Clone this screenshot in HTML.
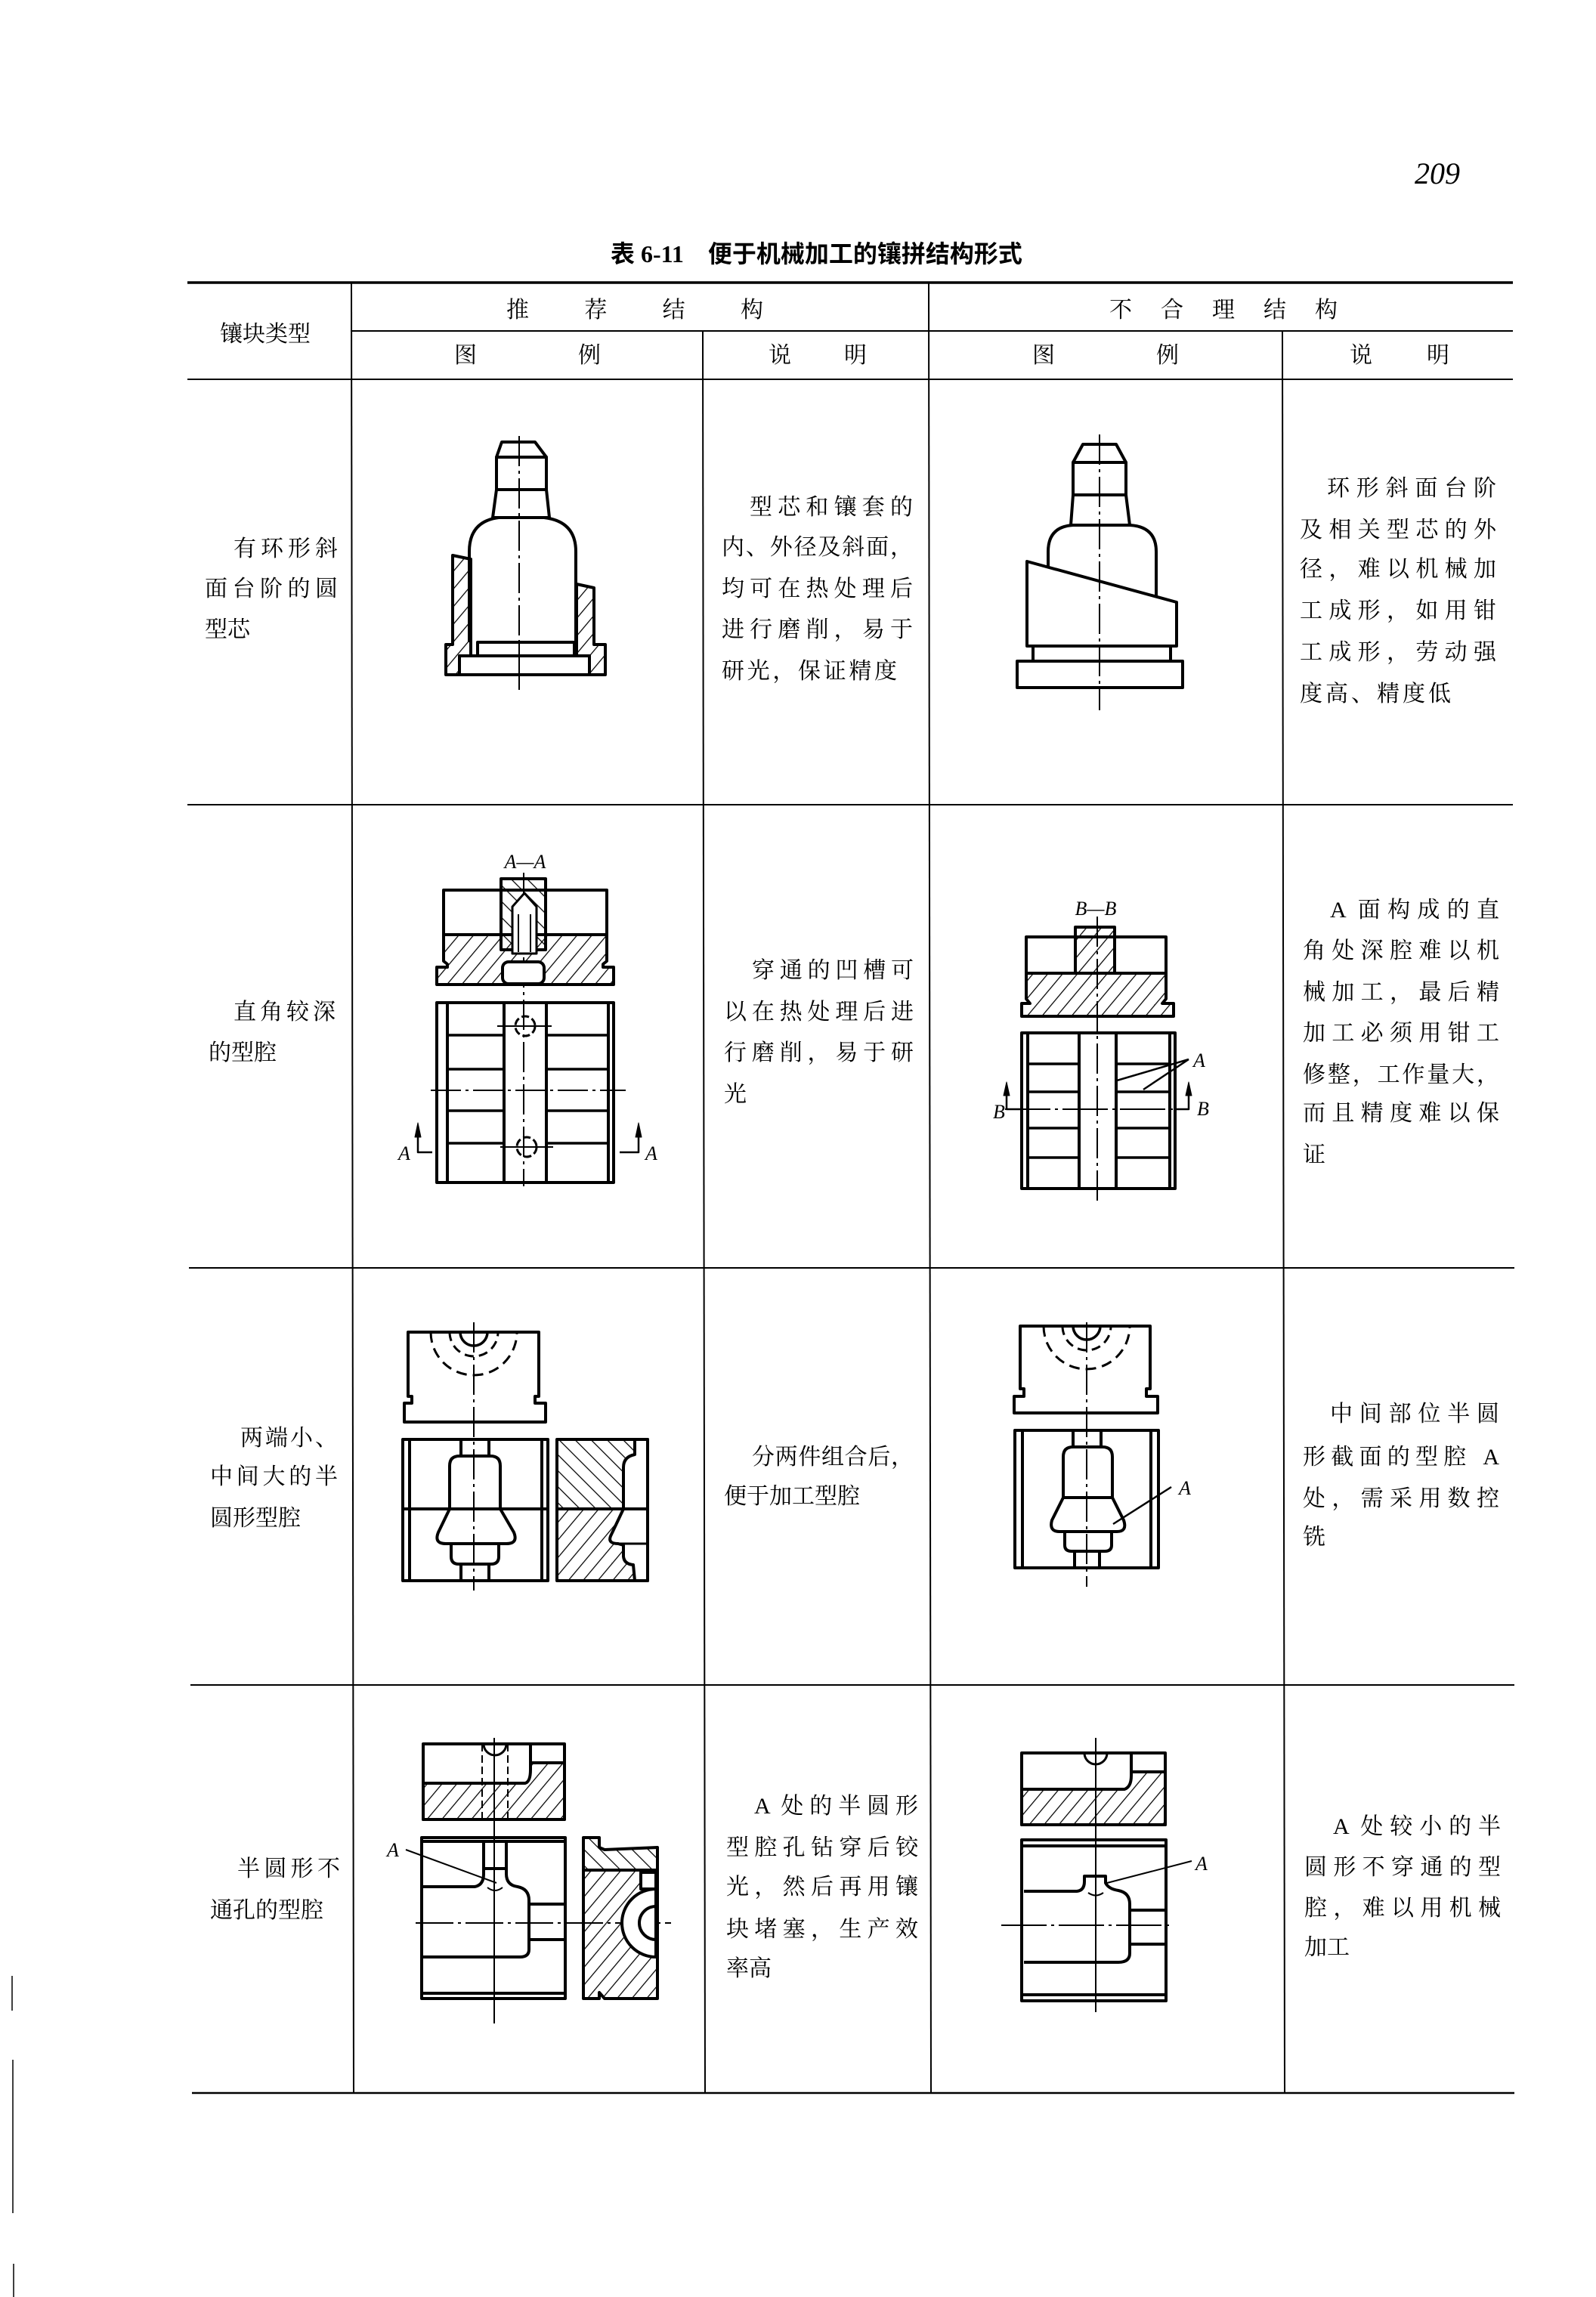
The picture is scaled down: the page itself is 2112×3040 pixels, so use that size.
<!DOCTYPE html>
<html><head><meta charset="utf-8">
<style>
html,body{margin:0;padding:0;background:#fff;}
body{width:2112px;height:3040px;position:relative;overflow:hidden;}
.t{position:absolute;font-family:"Liberation Serif","Noto Serif CJK SC",serif;font-size:30px;line-height:36px;white-space:nowrap;color:#000;}
.j{text-align:justify;text-align-last:justify;}
svg{position:absolute;left:0;top:0;}
</style></head><body>
<svg width="2112" height="3040" viewBox="0 0 2112 3040" xmlns="http://www.w3.org/2000/svg">
<defs>
<pattern id="h" width="15" height="15" patternUnits="userSpaceOnUse" patternTransform="rotate(40)"><line x1="0" y1="0" x2="0" y2="15" stroke="#000" stroke-width="2.5"/></pattern>
<pattern id="h2" width="15" height="15" patternUnits="userSpaceOnUse" patternTransform="rotate(-45)"><line x1="0" y1="0" x2="0" y2="15" stroke="#000" stroke-width="2.5"/></pattern>
</defs>
<g stroke="#000" fill="none">
<line x1="248" y1="374" x2="2002" y2="374" stroke-width="3.5"/>
<line x1="464" y1="438" x2="2002" y2="438" stroke-width="2"/>
<line x1="248" y1="502" x2="2002" y2="502" stroke-width="2"/>
<line x1="248" y1="1065" x2="2002" y2="1065" stroke-width="2"/>
<line x1="250" y1="1678" x2="2004" y2="1678" stroke-width="2"/>
<line x1="252" y1="2230" x2="2004" y2="2230" stroke-width="2"/>
<line x1="254" y1="2770" x2="2004" y2="2770" stroke-width="2.5"/>
<line x1="465" y1="374" x2="468" y2="2770" stroke-width="2"/>
<line x1="930" y1="438" x2="933" y2="2770" stroke-width="2"/>
<line x1="1229" y1="374" x2="1232" y2="2770" stroke-width="2"/>
<line x1="1697" y1="438" x2="1700" y2="2770" stroke-width="2"/>
<line x1="16" y1="2615" x2="16" y2="2661" stroke-width="1.5"/>
<line x1="17" y1="2726" x2="17" y2="2929" stroke-width="1.5"/>
<line x1="18" y1="2996" x2="18" y2="3040" stroke-width="1.5"/>
</g>

<g stroke="#000" stroke-width="4" fill="none" stroke-linejoin="round">
<line x1="687" y1="577" x2="687" y2="913" stroke-width="2" stroke-dasharray="40 6 4 6"/>
<polygon points="664,585 708,585 723,605 657,605"/>
<rect x="657" y="605" width="66" height="43"/>
<polygon points="657,648 723,648 727,685 652,685"/>
<path d="M621,850 L621,730 Q621,690 660,685 L720,685 Q762,690 762,730 L762,850"/>
<polygon points="599,735 623,740 623,868 608,868 608,893 590,893 590,853 599,853" fill="url(#h)"/>
<polygon points="763,773 786,778 786,853 801,853 801,893 780,893 780,868 763,868" fill="url(#h)"/>
<rect x="632" y="850" width="128" height="18" fill="#fff"/>
<rect x="608" y="868" width="172" height="25" fill="#fff"/>
<line x1="687" y1="850" x2="687" y2="913" stroke-width="2"/>

<line x1="1455" y1="575" x2="1455" y2="940" stroke-width="2" stroke-dasharray="40 6 4 6"/>
<polygon points="1433,588 1477,588 1490,612 1420,612"/>
<rect x="1420" y="612" width="70" height="43"/>
<polygon points="1420,655 1490,655 1495,695 1417,695"/>
<path d="M1387,750 L1387,730 Q1387,697 1420,695 L1495,695 Q1530,697 1530,730 L1530,788"/>
<polygon points="1359,743 1557,797 1557,855 1359,855"/>
<line x1="1367" y1="855" x2="1367" y2="875"/>
<line x1="1549" y1="855" x2="1549" y2="875"/>
<rect x="1346" y="875" width="219" height="35"/>

<line x1="693" y1="1155" x2="693" y2="1570" stroke-width="2" stroke-dasharray="40 6 4 6"/>
<rect x="587" y="1178" width="216" height="59"/>
<polygon points="587,1237 803,1237 803,1272 798,1276 798,1280 812,1280 812,1303 578,1303 578,1280 592,1280 592,1276 587,1272" fill="url(#h)"/>
<rect x="663" y="1163" width="59" height="94" fill="url(#h2)"/>
<path d="M678,1262 L678,1200 L694,1182 L710,1200 L710,1262 Z" fill="#fff" stroke-width="3"/>
<line x1="686" y1="1210" x2="686" y2="1260" stroke-width="2"/>
<line x1="702" y1="1210" x2="702" y2="1260" stroke-width="2"/>
<rect x="665" y="1273" width="55" height="29" rx="8" fill="#fff"/>
<rect x="578" y="1327" width="234" height="238"/>
<line x1="592" y1="1327" x2="592" y2="1565"/>
<line x1="805" y1="1327" x2="805" y2="1565"/>
<line x1="667" y1="1327" x2="667" y2="1565"/>
<line x1="723" y1="1327" x2="723" y2="1565"/>
<g stroke-width="3.5">
<line x1="592" y1="1370" x2="667" y2="1370"/><line x1="723" y1="1370" x2="805" y2="1370"/>
<line x1="592" y1="1415" x2="667" y2="1415"/><line x1="723" y1="1415" x2="805" y2="1415"/>
<line x1="592" y1="1470" x2="667" y2="1470"/><line x1="723" y1="1470" x2="805" y2="1470"/>
<line x1="592" y1="1513" x2="667" y2="1513"/><line x1="723" y1="1513" x2="805" y2="1513"/>
</g>
<line x1="570" y1="1443" x2="828" y2="1443" stroke-width="2" stroke-dasharray="40 6 4 6"/>
<circle cx="695" cy="1358" r="13" stroke-width="3" stroke-dasharray="10 4"/>
<circle cx="697" cy="1518" r="13" stroke-width="3" stroke-dasharray="10 4"/>
<line x1="658" y1="1358" x2="730" y2="1358" stroke-width="2"/>
<line x1="662" y1="1518" x2="732" y2="1518" stroke-width="2"/>
<path d="M553,1490 L553,1525 L572,1525" stroke-width="2.5"/>
<polygon points="549,1505 553,1486 557,1505" fill="#000" stroke-width="1"/>
<path d="M845,1490 L845,1525 L820,1525" stroke-width="2.5"/>
<polygon points="841,1505 845,1486 849,1505" fill="#000" stroke-width="1"/>

<line x1="1452" y1="1213" x2="1452" y2="1593" stroke-width="2" stroke-dasharray="40 6 4 6"/>
<rect x="1358" y="1240" width="185" height="48"/>
<polygon points="1358,1288 1543,1288 1543,1322 1538,1328 1553,1328 1553,1345 1352,1345 1352,1328 1363,1328 1358,1322" fill="url(#h)"/>
<rect x="1423" y="1227" width="52" height="61" fill="url(#h)"/>
<rect x="1352" y="1367" width="203" height="206"/>
<line x1="1360" y1="1367" x2="1360" y2="1573"/>
<line x1="1548" y1="1367" x2="1548" y2="1573"/>
<line x1="1428" y1="1367" x2="1428" y2="1573"/>
<line x1="1477" y1="1367" x2="1477" y2="1573"/>
<g stroke-width="3.5">
<line x1="1360" y1="1408" x2="1428" y2="1408"/><line x1="1477" y1="1408" x2="1548" y2="1408"/>
<line x1="1360" y1="1445" x2="1428" y2="1445"/><line x1="1477" y1="1445" x2="1548" y2="1445"/>
<line x1="1360" y1="1493" x2="1428" y2="1493"/><line x1="1477" y1="1493" x2="1548" y2="1493"/>
<line x1="1360" y1="1532" x2="1428" y2="1532"/><line x1="1477" y1="1532" x2="1548" y2="1532"/>
</g>
<line x1="1330" y1="1468" x2="1560" y2="1468" stroke-width="2" stroke-dasharray="60 6 4 6"/>
<line x1="1478" y1="1430" x2="1573" y2="1402" stroke-width="2.5"/>
<line x1="1513" y1="1442" x2="1573" y2="1402" stroke-width="2.5"/>
<path d="M1332,1436 L1332,1468 L1352,1468" stroke-width="2.5"/>
<polygon points="1328,1450 1332,1432 1336,1450" fill="#000" stroke-width="1"/>
<path d="M1573,1436 L1573,1468 L1556,1468" stroke-width="2.5"/>
<polygon points="1569,1450 1573,1432 1577,1450" fill="#000" stroke-width="1"/>

<line x1="627" y1="1750" x2="627" y2="2105" stroke-width="2" stroke-dasharray="40 6 4 6"/>
<path d="M540,1763 L713,1763 L713,1848 L708,1848 L708,1857 L722,1857 L722,1882 L535,1882 L535,1857 L545,1857 L545,1848 L540,1848 Z"/>
<path d="M609,1763 A18,18 0 0 0 645,1763" stroke-width="3.5"/>
<path d="M595,1763 A32,32 0 0 0 659,1763" stroke-width="3" stroke-dasharray="12 7"/>
<path d="M570,1763 A57,57 0 0 0 684,1763" stroke-width="3" stroke-dasharray="14 8"/>
<rect x="533" y="1905" width="192" height="187"/>
<line x1="542" y1="1905" x2="542" y2="2092"/>
<line x1="717" y1="1905" x2="717" y2="2092"/>
<line x1="533" y1="1997" x2="725" y2="1997"/>
<line x1="610" y1="1905" x2="610" y2="1927"/><line x1="647" y1="1905" x2="647" y2="1927"/>
<path d="M595,1997 L595,1940 Q595,1927 608,1927 L649,1927 Q662,1927 662,1940 L662,1997 L680,2028 Q686,2043 670,2043 L590,2043 Q574,2043 580,2028 Z"/>
<path d="M597,2043 L597,2060 Q597,2070 607,2070 L650,2070 Q660,2070 660,2060 L660,2043"/>
<line x1="610" y1="2070" x2="610" y2="2092"/><line x1="647" y1="2070" x2="647" y2="2092"/>
<rect x="737" y="1905" width="120" height="92" fill="url(#h2)"/>
<rect x="737" y="1997" width="120" height="95" fill="url(#h)"/>
<path d="M857,1905 L840,1905 L840,1925 Q825,1928 825,1942 L825,1997 L808,2033 Q804,2043 818,2043 L825,2045 L825,2060 Q826,2070 838,2071 L840,2092 L857,2092 Z" fill="#fff"/>
<line x1="825" y1="1997" x2="857" y2="1997"/>
<line x1="818" y1="2043" x2="857" y2="2043" stroke-width="3"/>

<line x1="1438" y1="1750" x2="1438" y2="2100" stroke-width="2" stroke-dasharray="40 6 4 6"/>
<path d="M1350,1755 L1522,1755 L1522,1838 L1517,1838 L1517,1848 L1532,1848 L1532,1870 L1342,1870 L1342,1848 L1355,1848 L1355,1838 L1350,1838 Z"/>
<path d="M1420,1755 A18,18 0 0 0 1456,1755" stroke-width="3.5"/>
<path d="M1406,1755 A32,32 0 0 0 1470,1755" stroke-width="3" stroke-dasharray="12 7"/>
<path d="M1381,1755 A57,57 0 0 0 1495,1755" stroke-width="3" stroke-dasharray="14 8"/>
<rect x="1343" y="1893" width="190" height="182"/>
<line x1="1353" y1="1893" x2="1353" y2="2075"/>
<line x1="1523" y1="1893" x2="1523" y2="2075"/>
<line x1="1420" y1="1893" x2="1420" y2="1915"/><line x1="1457" y1="1893" x2="1457" y2="1915"/>
<path d="M1407,1982 L1407,1928 Q1407,1915 1420,1915 L1459,1915 Q1472,1915 1472,1928 L1472,1982 Z"/>
<path d="M1407,1982 L1392,2012 Q1388,2027 1402,2027 L1478,2027 Q1492,2027 1487,2012 L1472,1982"/>
<path d="M1409,2027 L1409,2045 Q1409,2053 1418,2053 L1462,2053 Q1471,2053 1471,2045 L1471,2027"/>
<line x1="1422" y1="2053" x2="1422" y2="2075"/><line x1="1455" y1="2053" x2="1455" y2="2075"/>
<line x1="1473" y1="2017" x2="1550" y2="1968" stroke-width="2.5"/>

<line x1="654" y1="2300" x2="654" y2="2678" stroke-width="2"/>
<rect x="560" y="2308" width="187" height="100"/>
<path d="M560,2360 L695,2360 Q702,2358 702,2342 L702,2333 L747,2333 L747,2408 L560,2408 Z" fill="url(#h)"/>
<line x1="702" y1="2308" x2="702" y2="2333"/>
<path d="M640,2308 A15,15 0 0 0 670,2308" stroke-width="3"/>
<line x1="638" y1="2308" x2="638" y2="2408" stroke-width="2" stroke-dasharray="10 5"/>
<line x1="672" y1="2308" x2="672" y2="2408" stroke-width="2" stroke-dasharray="10 5"/>
<rect x="558" y="2432" width="190" height="213"/>
<line x1="558" y1="2437" x2="748" y2="2437"/>
<line x1="558" y1="2638" x2="748" y2="2638"/>
<path d="M560,2497 L628,2497 Q640,2495 640,2480 L640,2437"/>
<line x1="640" y1="2473" x2="670" y2="2473"/>
<path d="M670,2437 L670,2480 Q670,2495 685,2497 Q700,2500 700,2515 L700,2580 Q700,2590 688,2590 L560,2590"/>
<line x1="702" y1="2520" x2="748" y2="2520"/><line x1="702" y1="2567" x2="748" y2="2567"/>
<path d="M645,2498 Q655,2506 665,2498" stroke-width="2"/>
<line x1="550" y1="2545" x2="888" y2="2545" stroke-width="2" stroke-dasharray="50 6 4 6"/>
<line x1="537" y1="2448" x2="657" y2="2492" stroke-width="2"/>
<polygon points="772,2432 793,2432 793,2445 800,2448 870,2445 870,2475 772,2475" fill="url(#h2)"/>
<polygon points="772,2475 870,2475 870,2645 800,2645 793,2637 793,2645 772,2645" fill="url(#h)"/>
<rect x="848" y="2478" width="20" height="22" fill="#fff"/>
<path d="M868,2500 A45,45 0 0 0 868,2590 Z" fill="#fff"/>
<path d="M868,2523 A22,22 0 0 0 868,2567"/>

<line x1="1450" y1="2300" x2="1450" y2="2663" stroke-width="2"/>
<rect x="1352" y="2320" width="190" height="95"/>
<path d="M1352,2368 L1488,2368 Q1497,2365 1497,2350 L1497,2345 L1542,2345 L1542,2415 L1352,2415 Z" fill="url(#h)"/>
<line x1="1497" y1="2320" x2="1497" y2="2345"/>
<path d="M1435,2320 A15,15 0 0 0 1465,2320" stroke-width="3"/>
<rect x="1352" y="2435" width="191" height="213"/>
<line x1="1352" y1="2443" x2="1543" y2="2443"/>
<line x1="1352" y1="2640" x2="1543" y2="2640"/>
<path d="M1355,2503 L1425,2503 Q1435,2502 1435,2490 L1435,2483 L1463,2483 L1463,2492 Q1467,2500 1480,2502 Q1495,2505 1495,2520 L1495,2585 Q1495,2597 1480,2597 L1355,2597"/>
<line x1="1497" y1="2528" x2="1543" y2="2528"/><line x1="1497" y1="2573" x2="1543" y2="2573"/>
<path d="M1440,2505 Q1450,2512 1460,2505" stroke-width="2"/>
<line x1="1325" y1="2548" x2="1553" y2="2548" stroke-width="2" stroke-dasharray="60 6 4 6"/>
<line x1="1465" y1="2492" x2="1577" y2="2463" stroke-width="2"/>
</g>
<g font-family="Liberation Serif,serif" font-style="italic" font-size="26" text-anchor="middle">
<text x="695" y="1149">A—A</text>
<text x="535" y="1535">A</text>
<text x="862" y="1535">A</text>
<text x="1450" y="1211">B—B</text>
<text x="1587" y="1412">A</text>
<text x="1322" y="1480">B</text>
<text x="1592" y="1476">B</text>
<text x="1568" y="1978">A</text>
<text x="520" y="2457">A</text>
<text x="1590" y="2475">A</text>
</g>
</svg>

<div class="t" style="left:1872px;top:208px;font-size:40px;line-height:44px;font-style:italic;">209</div>
<div class="t" style="left:808px;top:316px;width:634px;font-size:32px;line-height:40px;font-weight:bold;font-family:'Liberation Serif','Noto Sans CJK SC',sans-serif;">表 6-11　便于机械加工的镶拼结构形式</div>

<div class="t" style="left:291px;top:425px;width:129px;" >镶块类型</div>
<div class="t j" style="left:670px;top:393px;width:340px;">推荐结构</div>
<div class="t j" style="left:1468px;top:393px;width:302px;">不合理结构</div>
<div class="t j" style="left:601px;top:453px;width:194px;">图例</div>
<div class="t j" style="left:1017px;top:453px;width:130px;">说明</div>
<div class="t j" style="left:1366px;top:453px;width:194px;">图例</div>
<div class="t j" style="left:1786px;top:453px;width:132px;">说明</div>

<div class="t j" style="left:309px;top:709px;width:138px;">有环形斜</div>
<div class="t j" style="left:271px;top:762px;width:176px;">面台阶的圆</div>
<div class="t" style="left:271px;top:816px;">型芯</div>
<div class="t j" style="left:992px;top:654px;width:216px;">型芯和镶套的</div>
<div class="t j" style="left:955px;top:707px;width:253px;">内、外径及斜面，</div>
<div class="t j" style="left:955px;top:762px;width:253px;">均可在热处理后</div>
<div class="t j" style="left:955px;top:816px;width:253px;">进行磨削，易于</div>
<div class="t j" style="left:955px;top:871px;width:232px;">研光，保证精度</div>
<div class="t j" style="left:1756px;top:629px;width:224px;">环形斜面台阶</div>
<div class="t j" style="left:1720px;top:684px;width:260px;">及相关型芯的外</div>
<div class="t j" style="left:1720px;top:736px;width:260px;">径，难以机械加</div>
<div class="t j" style="left:1720px;top:791px;width:260px;">工成形，如用钳</div>
<div class="t j" style="left:1720px;top:846px;width:260px;">工成形，劳动强</div>
<div class="t j" style="left:1720px;top:901px;width:200px;">度高、精度低</div>

<div class="t j" style="left:309px;top:1322px;width:135px;">直角较深</div>
<div class="t" style="left:276px;top:1376px;">的型腔</div>
<div class="t j" style="left:995px;top:1267px;width:214px;">穿通的凹槽可</div>
<div class="t j" style="left:958px;top:1322px;width:251px;">以在热处理后进</div>
<div class="t j" style="left:958px;top:1376px;width:251px;">行磨削，易于研</div>
<div class="t" style="left:958px;top:1431px;">光</div>
<div class="t j" style="left:1760px;top:1187px;width:224px;">A 面构成的直</div>
<div class="t j" style="left:1724px;top:1241px;width:260px;">角处深腔难以机</div>
<div class="t j" style="left:1724px;top:1296px;width:260px;">械加工，最后精</div>
<div class="t j" style="left:1724px;top:1350px;width:260px;">加工必须用钳工</div>
<div class="t j" style="left:1724px;top:1405px;width:260px;">修整，工作量大，</div>
<div class="t j" style="left:1724px;top:1456px;width:260px;">而且精度难以保</div>
<div class="t" style="left:1724px;top:1511px;">证</div>

<div class="t j" style="left:318px;top:1886px;width:129px;">两端小、</div>
<div class="t j" style="left:278px;top:1937px;width:169px;">中间大的半</div>
<div class="t" style="left:278px;top:1992px;">圆形型腔</div>
<div class="t j" style="left:995px;top:1911px;width:214px;">分两件组合后，</div>
<div class="t" style="left:958px;top:1963px;">便于加工型腔</div>
<div class="t j" style="left:1760px;top:1854px;width:224px;">中间部位半圆</div>
<div class="t j" style="left:1724px;top:1911px;width:260px;">形截面的型腔 A</div>
<div class="t j" style="left:1724px;top:1966px;width:260px;">处，需采用数控</div>
<div class="t" style="left:1724px;top:2017px;">铣</div>

<div class="t j" style="left:314px;top:2456px;width:136px;">半圆形不</div>
<div class="t" style="left:278px;top:2511px;">通孔的型腔</div>
<div class="t j" style="left:998px;top:2373px;width:217px;">A 处的半圆形</div>
<div class="t j" style="left:961px;top:2428px;width:254px;">型腔孔钻穿后铰</div>
<div class="t j" style="left:961px;top:2480px;width:254px;">光，然后再用镶</div>
<div class="t j" style="left:961px;top:2536px;width:254px;">块堵塞，生产效</div>
<div class="t" style="left:961px;top:2588px;">率高</div>
<div class="t j" style="left:1764px;top:2400px;width:222px;">A 处较小的半</div>
<div class="t j" style="left:1726px;top:2454px;width:260px;">圆形不穿通的型</div>
<div class="t j" style="left:1726px;top:2508px;width:260px;">腔，难以用机械</div>
<div class="t" style="left:1726px;top:2560px;">加工</div>
</body></html>
